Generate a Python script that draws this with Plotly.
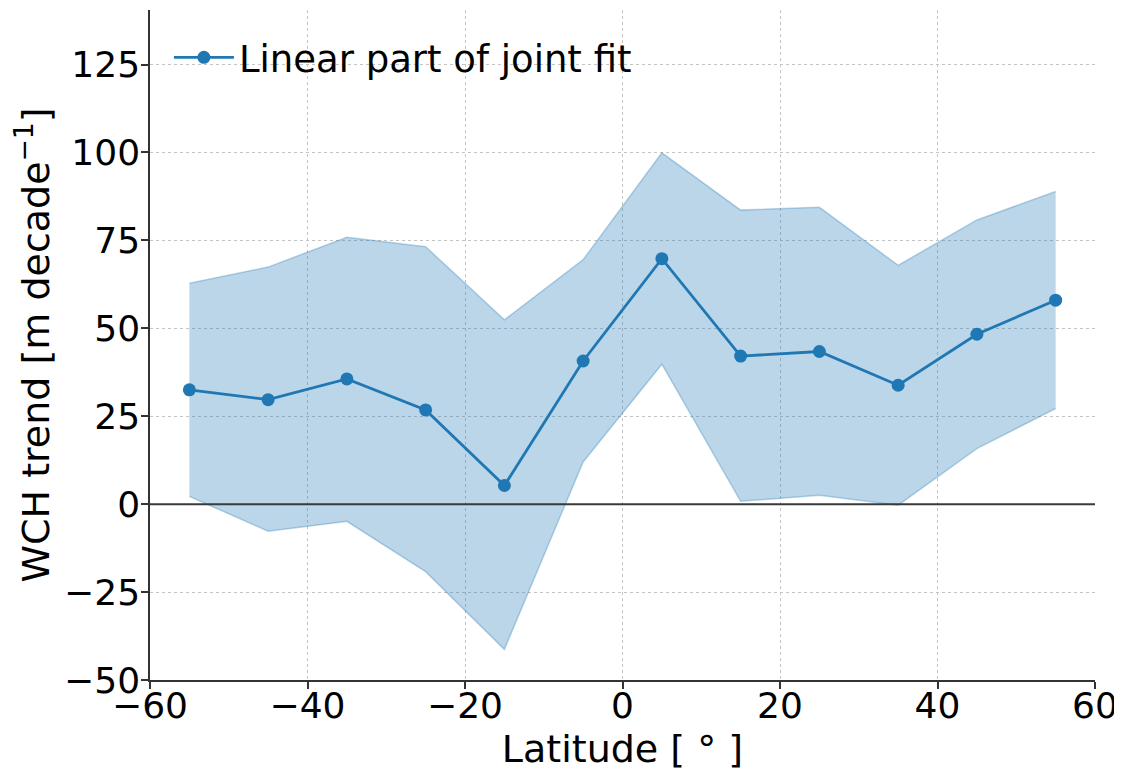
import plotly.graph_objects as go

latitude = [-55, -45, -35, -25, -15, -5, 5, 15, 25, 35, 45, 55]
trend = [32.5, 29.7, 35.6, 26.8, 5.3, 40.7, 69.8, 42.1, 43.4, 33.8, 48.3, 58.0]
upper = [62.8, 67.4, 75.9, 73.2, 52.4, 69.5, 99.9, 83.6, 84.4, 67.9, 80.8, 88.9]
lower = [2.2, -7.7, -4.9, -19.2, -41.3, 12.0, 39.8, 0.8, 2.5, -0.3, 15.8, 27.2]

x_ticks = [-60, -40, -20, 0, 20, 40, 60]
y_ticks = [-50, -25, 0, 25, 50, 75, 100, 125]

def fmt(v):
    return ("\u2212" + str(abs(v))) if v < 0 else str(v)

blue = "#1f77b4"
band = "rgba(31,119,180,0.3)"
font = "DejaVu Sans"

fig = go.Figure()
fig.add_trace(go.Scatter(x=latitude, y=upper, mode="lines",
                         line=dict(color=band, width=1.5),
                         showlegend=False, hoverinfo="skip"))
fig.add_trace(go.Scatter(x=latitude, y=lower, mode="lines", fill="tonexty",
                         fillcolor=band, line=dict(color=band, width=1.5),
                         showlegend=False, hoverinfo="skip"))
fig.add_hline(y=0, line=dict(color="#3a3a3a", width=2), layer="above")
fig.add_trace(go.Scatter(x=latitude, y=trend, mode="lines+markers",
                         name="Linear part of joint fit",
                         line=dict(color=blue, width=2.8),
                         marker=dict(color=blue, size=13)))

axis_common = dict(
    showline=True, linecolor="#333333", linewidth=1.5,
    ticks="outside", ticklen=7, tickwidth=1.5, tickcolor="#333333",
    showgrid=True, gridcolor="#c4c4c4", gridwidth=1, griddash="dot",
    zeroline=False, tickfont=dict(family=font, size=36, color="black"),
    mirror=False, automargin=False,
)

fig.update_xaxes(range=[-60, 60], tickvals=x_ticks,
                 ticktext=[fmt(v) for v in x_ticks],
                 ticklabelstandoff=-14,
                 title=dict(text="Latitude [ \u00b0 ]",
                            font=dict(family=font, size=38, color="black"),
                            standoff=18),
                 **axis_common)
fig.update_yaxes(range=[-50, 140.5], tickvals=y_ticks,
                 ticktext=[fmt(v) for v in y_ticks],
                 ticklabelstandoff=-6,
                 title=dict(text="WCH trend [m decade<sup>\u22121</sup>]",
                            font=dict(family=font, size=38, color="black"),
                            standoff=10),
                 **axis_common)

# page body has an 8px default margin, so shrink the figure accordingly
fig.update_layout(
    width=1114, height=763,
    margin=dict(l=142, r=27, t=2, b=91),
    paper_bgcolor="white", plot_bgcolor="white",
    font=dict(family=font, color="black"),
    legend=dict(x=0.02, y=0.975, xanchor="left", yanchor="top",
                bgcolor="rgba(255,255,255,0)", itemwidth=60,
                font=dict(family=font, size=37, color="black")),
)

fig.write_html("out.html")
